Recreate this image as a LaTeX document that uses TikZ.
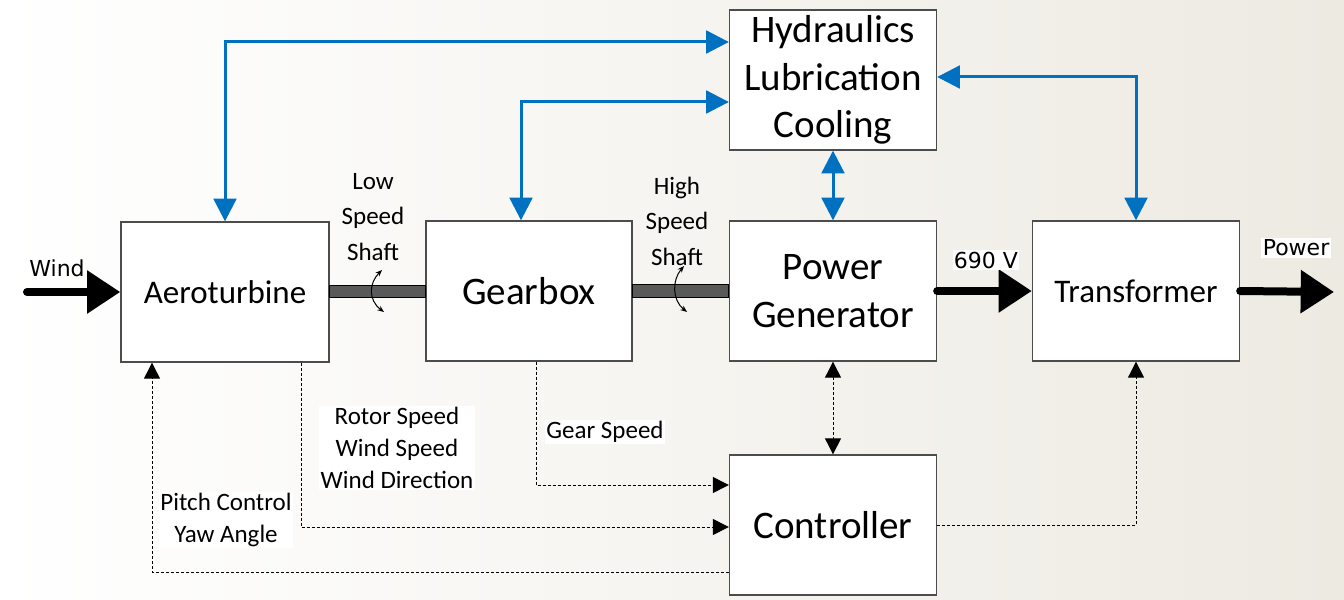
\documentclass[tikz,border=0pt]{standalone}
\usepackage{fontspec}
\setmainfont{Carlito}
\newfontfamily\dejavu{DejaVu Sans}
\usetikzlibrary{arrows.meta}
\definecolor{arrblue}{RGB}{0,112,192}
\definecolor{bgright}{RGB}{237,234,226}
\definecolor{shaftgray}{RGB}{89,89,89}
\tikzset{
  box/.style={draw=black!70, line width=1pt, fill=white, minimum width=155.25pt, minimum height=105pt, align=center, inner sep=0pt},
  bigtxt/.style={font=\fontsize{29.25}{35.5}\selectfont},
  midtxt/.style={font=\fontsize{24.75}{30}\selectfont},
  lab/.style={font=\fontsize{18.75}{24}\selectfont, align=center, fill=white, inner sep=1pt},
  shaftlab/.style={font=\fontsize{18.75}{26.6}\selectfont, align=center, inner sep=1pt},
  dvlab/.style={font=\dejavu\fontsize{16.5}{20}\selectfont, fill=white, inner sep=1pt},
  bluearr/.style={draw=arrblue, line width=2.25pt, {Triangle[length=17pt,width=17pt]}-{Triangle[length=17pt,width=17pt]}},
  dotarr/.style={draw=black, line width=0.75pt, dash pattern=on 2.25pt off 1.5pt, -{Triangle[length=12pt,width=12pt]}},
  dotarrtwo/.style={draw=black, line width=0.75pt, dash pattern=on 2.25pt off 1.5pt, {Triangle[length=12pt,width=12pt]}-{Triangle[length=12pt,width=12pt]}},
  bigarr/.style={draw=black, line width=6pt, line cap=round, -{Triangle[length=25pt,width=31pt]}},
  shaft/.style={draw=black, line width=0.75pt, fill=shaftgray},
  rot/.style={draw=black, line width=0.75pt, {Stealth[length=5pt,width=4pt]}-{Stealth[length=5pt,width=4pt]}}
}
\begin{document}
\begin{tikzpicture}[x=0.75pt,y=-0.75pt]
\shade[left color=white, right color=bgright] (0,0) rectangle (1344,599);
\useasboundingbox (0,0) rectangle (1344,599);

\node[box, midtxt, minimum width=156pt] (aero) at (225,292) {Aeroturbine};
\node[box, bigtxt, minimum width=154.5pt] (gear) at (529,291) {Gearbox};
\node[box, bigtxt] (pg) at (833,291) {Power\\Generator};
\node[box, midtxt] (trans) at (1136,291) {Transformer};
\node[box, bigtxt] (hyd) at (833,80) {Hydraulics\\Lubrication\\Cooling};
\node[box, bigtxt] (ctrl) at (833,525) {Controller};

% shafts
\draw[shaft] ([yshift=5pt]aero.east) rectangle ([yshift=-4.5pt]gear.west);
\draw[shaft] ([yshift=5pt]gear.east) rectangle ([yshift=-4.5pt]pg.west);
\draw[rot] (382,270) .. controls (369,283) and (368,300) .. (384,312);
\draw[rot] (684,266) .. controls (672,280) and (672,300) .. (687,312);

\node[shaftlab] (lss) at (373,217) {Low\\Speed\\Shaft};
\node[shaftlab] (hss) at (677,221) {High\\Speed\\Shaft};

% blue connectors
\draw[bluearr] (aero.north) |- ([yshift=28.5pt]hyd.west);
\draw[bluearr] ([xshift=-6pt]gear.north) |- ([yshift=-16.5pt]hyd.west);
\draw[bluearr] (hyd.south) -- (pg.north);
\draw[bluearr] (trans.north) |- ([yshift=2.25pt]hyd.east);

% power flow arrows
\coordinate (w0) at (27,292);
\coordinate (p1) at (1334,292);
\draw[bigarr] (w0) -- (aero.west);
\draw[bigarr] (pg.east) -- (trans.west);
\draw[bigarr] (trans.east) -- (p1);
\node[dvlab] (wl) at (57,268) {Wind};
\node[dvlab] (vl) at (986,260) {690 V};
\node[dvlab] (pl) at (1296,248) {Power};

% dotted connectors
\draw[dotarr] ([xshift=57pt]aero.south) |- ([yshift=-1.5pt]ctrl.west);
\draw[dotarr] ([xshift=5.25pt]gear.south) |- ([yshift=30pt]ctrl.west);
\draw[dotarr] ([yshift=-35.25pt]ctrl.west) -| ([xshift=-54.75pt]aero.south);
\draw[dotarrtwo] (pg.south) -- (ctrl.north);
\draw[dotarr] (ctrl.east) -| (trans.south);

\node[lab] (rs) at (397,448) {Rotor Speed\\Wind Speed\\Wind Direction};
\node[lab] (gs) at (605,432) {Gear Speed};
\node[lab] (pc) at (226,520) {Pitch Control\\Yaw Angle};
\end{tikzpicture}
\end{document}
